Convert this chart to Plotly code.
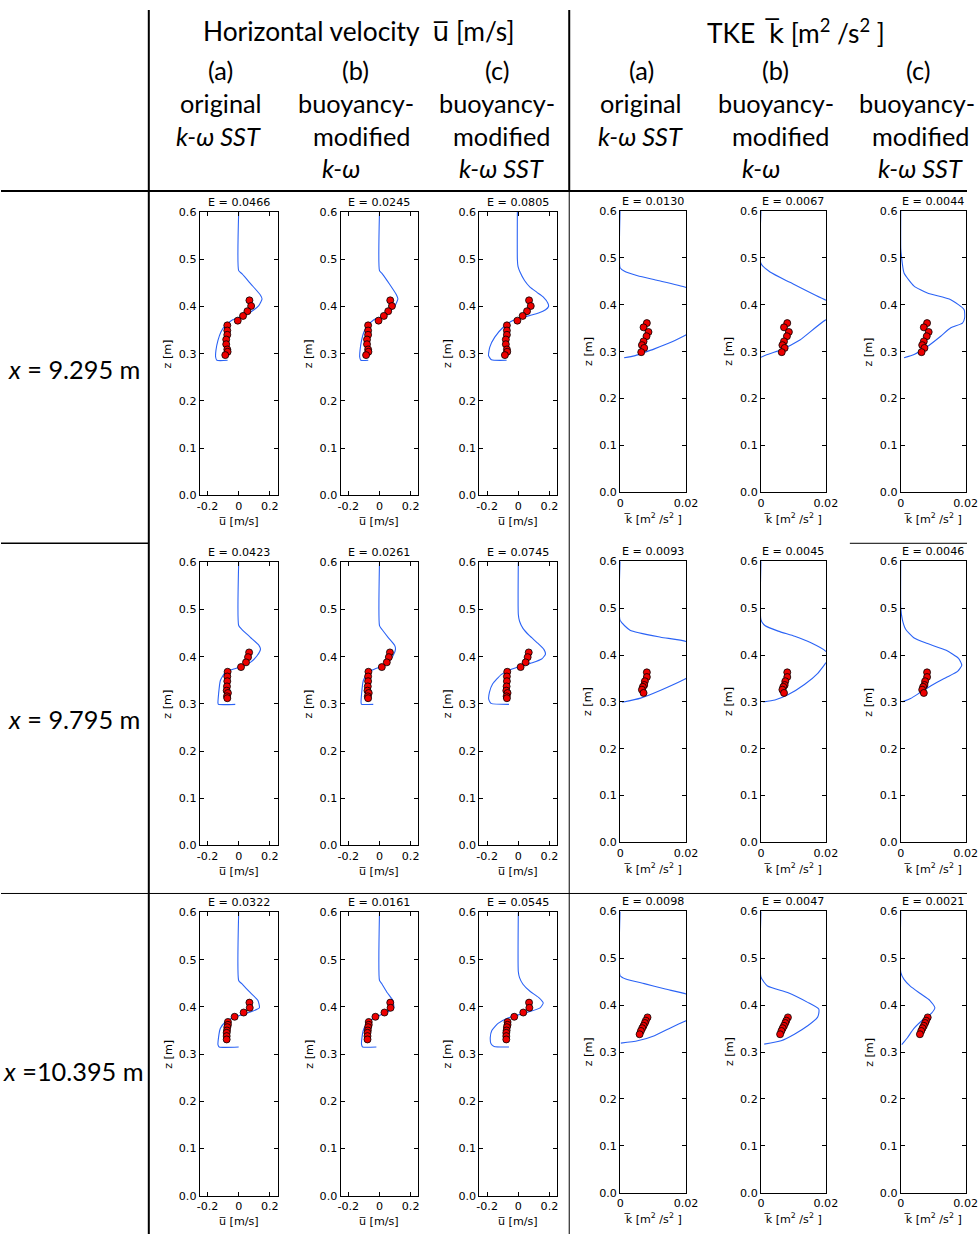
import plotly.graph_objects as go

W, H = 979, 1241

# ---------------- data ----------------
row_labels = ["<i>x</i> = 9.295 m", "<i>x</i> = 9.795 m", "<i>x</i> =10.395 m"]
E_vel = [["0.0466", "0.0245", "0.0805"],
         ["0.0423", "0.0261", "0.0745"],
         ["0.0322", "0.0161", "0.0545"]]
E_tke = [["0.0130", "0.0067", "0.0044"],
         ["0.0093", "0.0045", "0.0046"],
         ["0.0098", "0.0047", "0.0021"]]

vel_ticks = [-0.2, 0, 0.2]
vel_ticktext = ["-0.2", "0", "0.2"]
tke_ticks = [0, 0.02]
tke_ticktext = ["0", "0.02"]
z_ticks = [0.0, 0.1, 0.2, 0.3, 0.4, 0.5, 0.6]
z_ticktext = ["0.0", "0.1", "0.2", "0.3", "0.4", "0.5", "0.6"]

# measurements (velocity)
mu_r1 = [0.069, 0.080, 0.056, 0.028, -0.006, -0.073, -0.073, -0.073, -0.080, -0.080, -0.073, -0.071, -0.086]
mz_r1 = [0.413, 0.401, 0.390, 0.380, 0.370, 0.360, 0.349, 0.340, 0.330, 0.320, 0.309, 0.304, 0.297]
mu_r2 = [0.067, 0.060, 0.047, 0.015, -0.071, -0.073, -0.073, -0.075, -0.077, -0.069, -0.075, -0.073]
mz_r2 = [0.409, 0.399, 0.388, 0.378, 0.368, 0.358, 0.348, 0.337, 0.328, 0.323, 0.316, 0.312]
mu_r3 = [0.069, 0.071, 0.032, -0.026, -0.069, -0.069, -0.073, -0.075, -0.077, -0.077, -0.077]
mz_r3 = [0.409, 0.398, 0.388, 0.379, 0.368, 0.362, 0.357, 0.350, 0.345, 0.338, 0.331]

# measurements (TKE)
mk_r1 = [0.0081, 0.0071, 0.0086, 0.0080, 0.0071, 0.0066, 0.0073, 0.0064]
mkz_r1 = [0.361, 0.352, 0.342, 0.333, 0.322, 0.314, 0.308, 0.299]
mk_r2 = [0.0081, 0.0081, 0.0075, 0.0073, 0.0069, 0.0066, 0.0071]
mkz_r2 = [0.363, 0.353, 0.344, 0.336, 0.332, 0.326, 0.319]
mk_r3 = [0.0083, 0.0078, 0.0075, 0.0071, 0.0067, 0.0063, 0.0059]
mkz_r3 = [0.374, 0.367, 0.362, 0.356, 0.351, 0.345, 0.338]

# model velocity profiles
z_r1ab = [0.6, 0.476, 0.469, 0.447, 0.424, 0.416, 0.402, 0.388, 0.378, 0.371, 0.36, 0.346, 0.328, 0.307, 0.293, 0.286, 0.286]
u_r1a = [0, 0, 0.022, 0.08, 0.14, 0.15, 0.129, 0.075, 0.011, -0.043, -0.086, -0.114, -0.133, -0.146, -0.148, -0.14, -0.071]
u_r1b = [0, 0, 0.018, 0.065, 0.11, 0.118, 0.1, 0.06, 0.008, -0.04, -0.075, -0.1, -0.115, -0.125, -0.127, -0.12, -0.072]
z_r1c = [0.6, 0.5, 0.485, 0.473, 0.455, 0.441, 0.43, 0.42, 0.407, 0.4, 0.393, 0.386, 0.381, 0.376, 0.371, 0.356, 0.335, 0.314, 0.296, 0.287, 0.286]
u_r1c = [-0.006, -0.006, -0.002, 0.011, 0.04, 0.075, 0.12, 0.161, 0.19, 0.194, 0.175, 0.13, 0.075, 0.02, -0.032, -0.097, -0.151, -0.183, -0.191, -0.172, -0.075]

z_r2ab = [0.6, 0.466, 0.458, 0.441, 0.424, 0.416, 0.402, 0.388, 0.379, 0.374, 0.367, 0.349, 0.321, 0.302, 0.299, 0.299]
u_r2a = [0, 0, 0.02, 0.075, 0.13, 0.14, 0.118, 0.075, 0.02, -0.032, -0.086, -0.118, -0.129, -0.133, -0.13, -0.022]
u_r2b = [0, 0, 0.015, 0.055, 0.097, 0.103, 0.087, 0.055, 0.012, -0.03, -0.075, -0.104, -0.115, -0.118, -0.115, -0.04]
z_r2c = [0.6, 0.49, 0.475, 0.46, 0.445, 0.43, 0.415, 0.405, 0.395, 0.387, 0.38, 0.374, 0.362, 0.342, 0.325, 0.31, 0.301, 0.299]
u_r2c = [0, 0, 0.008, 0.03, 0.07, 0.12, 0.165, 0.174, 0.15, 0.09, 0.02, -0.04, -0.11, -0.165, -0.185, -0.19, -0.175, -0.06]

z_r3ab = [0.6, 0.456, 0.449, 0.43, 0.414, 0.398, 0.389, 0.379, 0.368, 0.354, 0.336, 0.32, 0.315, 0.315]
u_r3a = [0, 0, 0.02, 0.075, 0.123, 0.133, 0.075, -0.022, -0.086, -0.118, -0.129, -0.133, -0.125, 0]
u_r3b = [0, 0, 0.015, 0.05, 0.085, 0.092, 0.05, -0.02, -0.07, -0.1, -0.112, -0.115, -0.108, -0.02]
z_r3c = [0.6, 0.475, 0.462, 0.448, 0.433, 0.42, 0.408, 0.398, 0.39, 0.383, 0.376, 0.365, 0.35, 0.335, 0.322, 0.316, 0.315]
u_r3c = [0, 0, 0.008, 0.03, 0.075, 0.13, 0.16, 0.14, 0.075, 0.0, -0.07, -0.13, -0.17, -0.18, -0.175, -0.155, -0.06]

# model TKE profiles
k_r1a = [0, 0, 0.0012, 0.0053, 0.0114, 0.02, 0.035, 0.02, 0.0154, 0.0104, 0.0068, 0.0043, 0.0012]
kz_r1a = [0.6, 0.479, 0.472, 0.462, 0.452, 0.437, 0.39, 0.336, 0.320, 0.306, 0.297, 0.291, 0.287]
k_r1b = [0, 0, 0.0028, 0.0089, 0.02, 0.03, 0.02, 0.012, 0.0058, 0.0012, 0]
kz_r1b = [0.6, 0.488, 0.47, 0.448, 0.41, 0.39, 0.368, 0.325, 0.303, 0.292, 0.288]
k_r1c = [0, 0, 0.0002, 0.001, 0.0041, 0.0082, 0.0154, 0.0195, 0.0197, 0.019, 0.0154, 0.0123, 0.0082, 0.0041, 0.001]
kz_r1c = [0.6, 0.52, 0.504, 0.468, 0.44, 0.425, 0.411, 0.39, 0.373, 0.361, 0.351, 0.333, 0.311, 0.294, 0.287]

k_r2a = [0, 0, 0.003, 0.0123, 0.02, 0.03, 0.02, 0.0123, 0.0062, 0.0006]
kz_r2a = [0.6, 0.474, 0.453, 0.438, 0.429, 0.39, 0.350, 0.325, 0.308, 0.299]
k_r2b = [0, 0, 0.0012, 0.0053, 0.0104, 0.0154, 0.02, 0.0215, 0.02, 0.0175, 0.0134, 0.0083, 0.0043, 0.0007]
kz_r2b = [0.6, 0.475, 0.463, 0.451, 0.440, 0.426, 0.408, 0.395, 0.383, 0.361, 0.337, 0.315, 0.304, 0.300]
k_r2c = [0, 0, 0.0005, 0.0015, 0.004, 0.008, 0.014, 0.0178, 0.0188, 0.0175, 0.014, 0.01, 0.006, 0.003, 0.0005]
kz_r2c = [0.6, 0.50, 0.475, 0.455, 0.437, 0.425, 0.41, 0.393, 0.378, 0.365, 0.352, 0.337, 0.32, 0.307, 0.3]

k_r3a = [0, 0, 0.0017, 0.0073, 0.0134, 0.02, 0.03, 0.02, 0.0154, 0.0104, 0.0053, 0.0002]
kz_r3a = [0.6, 0.463, 0.456, 0.446, 0.435, 0.424, 0.40, 0.367, 0.352, 0.335, 0.324, 0.319]
k_r3b = [0, 0, 0.002, 0.0082, 0.0144, 0.0178, 0.0178, 0.0174, 0.0144, 0.0103, 0.0062, 0.001]
kz_r3b = [0.6, 0.46, 0.441, 0.427, 0.406, 0.392, 0.382, 0.374, 0.356, 0.338, 0.324, 0.317]
k_r3c = [0, 0, 0.001, 0.003, 0.006, 0.009, 0.0105, 0.0095, 0.007, 0.004, 0.002, 0.0003]
kz_r3c = [0.6, 0.47, 0.455, 0.44, 0.425, 0.41, 0.395, 0.383, 0.37, 0.35, 0.33, 0.316]

vel_models = [
    [(u_r1a, z_r1ab), (u_r1b, z_r1ab), (u_r1c, z_r1c)],
    [(u_r2a, z_r2ab), (u_r2b, z_r2ab), (u_r2c, z_r2c)],
    [(u_r3a, z_r3ab), (u_r3b, z_r3ab), (u_r3c, z_r3c)],
]
tke_models = [
    [(k_r1a, kz_r1a), (k_r1b, kz_r1b), (k_r1c, kz_r1c)],
    [(k_r2a, kz_r2a), (k_r2b, kz_r2b), (k_r2c, kz_r2c)],
    [(k_r3a, kz_r3a), (k_r3b, kz_r3b), (k_r3c, kz_r3c)],
]
vel_meas = [(mu_r1, mz_r1), (mu_r2, mz_r2), (mu_r3, mz_r3)]
tke_meas = [(mk_r1, mkz_r1), (mk_r2, mkz_r2), (mk_r3, mkz_r3)]

# ---------------- layout geometry (target picture pixels) ----------------
vel_x_px = [(199, 277), (340, 418), (479, 557)]
tke_x_px = [(620, 686), (761, 826), (901, 966)]
vel_y_px = [(212, 495), (562, 845), (912, 1195)]
tke_y_px = [(211, 492), (561, 842), (911, 1192)]

# compensation of the photo's slight scaling
SX, OX = 0.985, 3.0
SY, OY = 0.989, 6.0
FS = 1.0 / 0.987

def px(x):
    return ((x - OX) / SX) / W

def py(y):
    return 1 - ((y - OY) / SY) / H

LINE_BLUE = "#2b63f5"
SMALL = dict(family="DejaVu Sans", size=11 * FS, color="black")
HEAD_FONT = "Lato"
OVL = '<span style="font-family:DejaVu Sans">{}\u0305</span>'

fig = go.Figure()
layout = {}
annotations = []

idx = 0
for r in range(3):
    for kind in ("vel", "tke"):
        for c in range(3):
            idx += 1
            xa = "x" if idx == 1 else f"x{idx}"
            ya = "y" if idx == 1 else f"y{idx}"
            xkey = "xaxis" if idx == 1 else f"xaxis{idx}"
            ykey = "yaxis" if idx == 1 else f"yaxis{idx}"
            if kind == "vel":
                x0, x1 = vel_x_px[c]
                y0, y1 = vel_y_px[r]
                xm, zm = vel_models[r][c]
                mx, mz = vel_meas[r]
                xr = [-0.25, 0.25]
                tv, tt = vel_ticks, vel_ticktext
                etxt = E_vel[r][c]
                xtitle = "u\u0305 [m/s]"
            else:
                x0, x1 = tke_x_px[c]
                y0, y1 = tke_y_px[r]
                xm, zm = tke_models[r][c]
                mx, mz = tke_meas[r]
                xr = [0, 0.02]
                tv, tt = tke_ticks, tke_ticktext
                etxt = E_tke[r][c]
                xtitle = "k\u0305 [m<sup>2</sup> /s<sup>2</sup> ]"

            fig.add_trace(go.Scatter(x=xm, y=zm, mode="lines",
                                     line=dict(color=LINE_BLUE, width=1.1, shape="spline", smoothing=0.5),
                                     xaxis=xa, yaxis=ya, showlegend=False, hoverinfo="skip"))
            fig.add_trace(go.Scatter(x=mx, y=mz, mode="markers",
                                     marker=dict(color="#ee0000", size=7, line=dict(color="black", width=0.8)),
                                     xaxis=xa, yaxis=ya, showlegend=False, cliponaxis=False))
            layout[xkey] = dict(domain=[px(x0), px(x1)], range=xr, anchor=ya,
                                showline=True, linecolor="black", linewidth=1, mirror="ticks",
                                ticks="inside", ticklen=4, tickcolor="black", tickwidth=1,
                                tickvals=tv, ticktext=tt, tickfont=SMALL,
                                showgrid=False, zeroline=False, fixedrange=True)
            layout[ykey] = dict(domain=[py(y1), py(y0)], range=[0, 0.6], anchor=xa,
                                showline=True, linecolor="black", linewidth=1, mirror="ticks",
                                ticks="inside", ticklen=4, tickcolor="black", tickwidth=1,
                                tickvals=z_ticks, ticktext=z_ticktext, tickfont=SMALL,
                                showgrid=False, zeroline=False, fixedrange=True)
            cx = (x0 + x1) / 2
            annotations.append(dict(x=px(cx), y=py(y0 - 1), xref="paper", yref="paper",
                                    text=f"E = {etxt}", showarrow=False, xanchor="center", yanchor="bottom",
                                    font=SMALL))
            annotations.append(dict(x=px(cx), y=py(y1 + 26), xref="paper", yref="paper",
                                    text=xtitle, showarrow=False, xanchor="center", yanchor="middle",
                                    font=SMALL))
            annotations.append(dict(x=px(x0 - 32), y=py((y0 + y1) / 2), xref="paper", yref="paper",
                                    text="z [m]", showarrow=False, textangle=-90,
                                    xanchor="center", yanchor="middle", font=SMALL))

# ---------------- header text ----------------
def head(x, y, text, size=25, anchor="center"):
    annotations.append(dict(x=px(x), y=py(y), xref="paper", yref="paper", text=text,
                            showarrow=False, xanchor=anchor, yanchor="middle",
                            font=dict(family=HEAD_FONT, size=size * FS, color="black")))

head(358, 31, "Horizontal velocity  " + OVL.format("u") + " [m/s]", 26)
head(796, 31, "TKE  " + OVL.format("k") + " [m<sup>2</sup> /s<sup>2</sup> ]", 26)

col_heads = [
    (["(a)", "original", "<i>k-ω SST</i>"], [220, 220, 218]),
    (["(b)", "buoyancy-", "modified", "<i>k-ω</i>"], [355, 355, 361, 340]),
    (["(c)", "buoyancy-", "modified", "<i>k-ω SST</i>"], [497, 497, 501, 501]),
    (["(a)", "original", "<i>k-ω SST</i>"], [641, 641, 640]),
    (["(b)", "buoyancy-", "modified", "<i>k-ω</i>"], [776, 776, 781, 761]),
    (["(c)", "buoyancy-", "modified", "<i>k-ω SST</i>"], [918, 917, 921, 921]),
]
line_y = [70, 103, 136, 168]
for lines, xs in col_heads:
    for i, t in enumerate(lines):
        head(xs[i], line_y[i], t)

for r, lab in enumerate(row_labels):
    head(73, [369, 719, 1070][r], lab)

# ---------------- table lines ----------------
shapes = []
def hline(y, xa, xb, w):
    shapes.append(dict(type="line", xref="paper", yref="paper", x0=px(xa), x1=min(px(xb), 1),
                       y0=py(y), y1=py(y), line=dict(color="black", width=w)))

def vline(x, ya, yb, w):
    shapes.append(dict(type="line", xref="paper", yref="paper", x0=px(x), x1=px(x),
                       y0=py(ya), y1=max(py(yb), 0), line=dict(color="black", width=w)))

vline(148, 10, 1241, 2)
vline(569, 10, 191, 2)
vline(569, 191, 1241, 1)
hline(191, 0, 979, 2)
hline(543, 0, 148, 1.5)
hline(543, 850, 979, 1)
hline(893, 0, 979, 1)

fig.update_layout(
    width=W, height=H,
    margin=dict(l=0, r=0, t=0, b=0),
    paper_bgcolor="white", plot_bgcolor="white",
    annotations=annotations, shapes=shapes,
    showlegend=False,
    **layout,
)

fig.write_html(
    "out.html",
    config={"displayModeBar": False},
    post_script="document.documentElement.style.overflow='hidden';"
                "document.body.style.margin='0';document.body.style.overflow='hidden';",
)
